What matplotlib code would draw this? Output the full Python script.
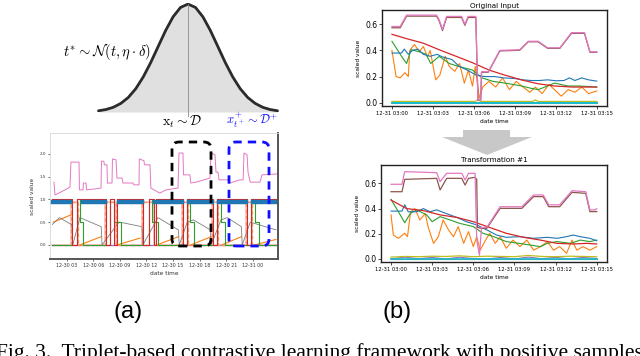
import matplotlib
matplotlib.use('Agg')
import matplotlib.pyplot as plt
from matplotlib.patches import FancyBboxPatch, Polygon
import numpy as np

plt.rcParams['mathtext.fontset'] = 'cm'

# ---------------- bell curve (sigma units, relative height) ----------------
bell_x = [-3.0, -2.75, -2.5, -2.25, -2.0, -1.75, -1.5, -1.25, -1.0, -0.75, -0.5, -0.25, 0.0,
          0.25, 0.5, 0.75, 1.0, 1.25, 1.5, 1.75, 2.0, 2.25, 2.5, 2.75, 3.0]
bell_y = [0.011, 0.023, 0.044, 0.080, 0.135, 0.216, 0.325, 0.458, 0.607, 0.755, 0.882, 0.969, 1.0,
          0.969, 0.882, 0.755, 0.607, 0.458, 0.325, 0.216, 0.135, 0.080, 0.044, 0.023, 0.011]

# ---------------- panel (a): hours since 12-30 00:00 ----------------
a_ticks = [3, 6, 9, 12, 15, 18, 21, 24]
a_ticklabels = ['12-30 03', '12-30 06', '12-30 09', '12-30 12', '12-30 15', '12-30 18', '12-30 21', '12-31 00']
a_yticks = [0.0, 0.5, 1.0, 1.5, 2.0]

pink_a_t = [1.58, 1.69, 2.25, 2.82, 3.38, 3.49, 4.40, 4.45, 4.85, 4.90, 5.19, 5.24, 6.20, 6.88, 6.93, 7.20,
            7.26, 7.55, 7.60, 8.12, 8.17, 8.57, 8.68, 9.24, 9.36, 10.48, 10.60, 11.16, 11.20, 11.72, 11.78,
            12.40, 12.50, 13.30, 13.53, 14.20, 15.56, 15.67, 16.12, 16.18, 16.90, 17.00, 17.60, 19.17, 19.28,
            19.73, 19.84, 20.07, 20.18, 21.20, 21.40, 22.55, 22.90, 23.00, 23.34, 23.45, 23.70, 24.80, 25.03, 26.70]
pink_a_v = [1.38, 1.10, 1.15, 1.21, 1.27, 1.82, 1.82, 1.21, 1.21, 1.36, 1.36, 1.21, 1.23, 1.25, 1.84, 1.84,
            1.76, 1.76, 1.36, 1.36, 1.89, 1.87, 1.47, 1.47, 1.36, 1.36, 1.32, 1.32, 1.89, 1.85, 1.76,
            1.76, 1.25, 1.16, 1.14, 1.21, 1.25, 2.02, 2.02, 1.54, 1.54, 1.36, 1.38, 1.47, 2.02,
            1.98, 1.60, 1.60, 1.43, 1.43, 1.36, 1.43, 1.43, 2.02, 1.98, 1.60, 1.38, 1.38, 1.54, 1.56]

red_a_t = [1.3, 3.6, 4.2, 7.4, 7.9, 8.4, 8.7, 11.6, 12.3, 12.8, 13.1, 16.1, 16.6, 19.5, 20.0, 23.3, 23.8, 26.6]
red_a_v = [1, 0, 1, 0, 1, 0, 1, 0, 1, 0, 1, 0, 1, 0, 1, 0, 1, 1]

blue_a_t = [1.3, 3.4, 4.8, 7.3, 8.9, 11.5, 13.0, 16.0, 16.8, 19.4, 20.2, 23.2, 24.0, 26.6]
blue_a_v = [0.94, np.nan, 0.94, np.nan, 0.94, np.nan, 0.94, np.nan, 0.94, np.nan, 0.94, np.nan, 0.94, 0.94]

green_a_t = [1.3, 4.2, 4.5, 4.9, 7.9, 8.3, 9.1, 12.3, 12.6, 13.3, 16.6, 16.9, 17.4, 20.0, 20.4, 20.9, 23.8, 24.2, 24.7, 26.6]
green_a_v = [0, 1, 0.5, 0, 1, 0.5, 0, 1, 0.5, 0, 1, 0.5, 0, 1, 0.5, 0, 1, 0.5, 0, 0]

pulse_a_t = [1.3, 3.5, 4.3, 7.3, 8.6, 11.5, 12.9, 16.0, 16.7, 19.4, 20.1, 23.2, 23.9, 26.6]
pulse_a_v = [0, 0.95, 0, 0.95, 0, 0.95, 0, 0.95, 0, 0.95, 0, 0.95, 0, 0]

orange_a_t = [1.5, 3.5, np.nan, 4.5, 6.9, np.nan, 8.7, 11.3, np.nan, 13.2, 15.6, np.nan, 17.0, 19.3, np.nan, 20.5, 22.7, np.nan, 24.2, 26.6]
orange_a_v = [0.5, 0.66, np.nan, 0.0, 0.18, np.nan, 0.0, 0.15, np.nan, 0.0, 0.18, np.nan, 0.0, 0.18, np.nan, 0.0, 0.18, np.nan, 0.0, 0.12]

grey_a_t = [1.4, 2.2, 3.6, 3.7, 4.5, 6.9, 7.0, 8.9, 9.5, 11.5, 11.6, 13.3, 15.6, 15.7, 16.6, 17.3, 19.2, 19.3,
            20.4, 21.1, 22.7, 22.8, 23.7, 26.6]
grey_a_v = [0.45, 0.6, 0.44, 0.0, 0.6, 0.4, 0.0, 0.5, 0.48, 0.4, 0.0, 0.6, 0.33, 0.0, 0.5, 0.55, 0.33, 0.0,
            0.55, 0.6, 0.4, 0.0, 0.5, 0.33]

purple_a_t = [1.3, 26.6]
purple_a_v = [0.0, 0.0]

# ---------------- panel (b): minutes after 12-31 03:00 ----------------
b_ticks = [0, 3, 6, 9, 12, 15]
b_ticklabels = ['12-31 03:00', '12-31 03:03', '12-31 03:06', '12-31 03:09', '12-31 03:12', '12-31 03:15']

top_pink_m = [0, 0.6, 1.07, 3.27, 3.46, 3.7, 4.0, 5.1, 5.34, 5.58, 6.14, 6.3, 6.5, 6.56, 7.05, 7.9, 9.36,
              9.98, 10.7, 11.4, 12.3, 13.15, 14.1, 14.5, 15.0]
top_pink_v = [0.583, 0.583, 0.67, 0.67, 0.633, 0.56, 0.66, 0.66, 0.60, 0.66, 0.66, 0.02, 0.02, 0.237, 0.237,
              0.40, 0.405, 0.47, 0.47, 0.42, 0.42, 0.536, 0.536, 0.39, 0.39]
top_brown_v = [0.573, 0.573, 0.662, 0.662, 0.625, 0.552, 0.652, 0.652, 0.592, 0.652, 0.652, 0.02, 0.02, 0.233, 0.233,
               0.396, 0.401, 0.466, 0.466, 0.416, 0.416, 0.531, 0.531, 0.386, 0.386]

top_red_m = [0, 1.07, 2.3, 3.46, 4.7, 5.9, 7.1, 8.3, 9.5, 10.7, 11.9, 13.2, 15.0]
top_red_v = [0.523, 0.49, 0.455, 0.405, 0.355, 0.306, 0.25, 0.21, 0.174, 0.145, 0.128, 0.12, 0.12]

top_blue_m = [0, 0.7, 0.9, 1.2, 1.5, 1.9, 2.3, 2.8, 3.3, 3.7, 4.4, 4.9, 5.5, 6.2, 6.8, 7.5, 8.2, 9.0, 9.6,
              10.2, 10.8, 11.4, 12.0, 12.6, 13.0, 13.4, 13.9, 14.4, 15.0]
top_blue_v = [0.38, 0.38, 0.41, 0.37, 0.40, 0.41, 0.37, 0.355, 0.37, 0.35, 0.33, 0.28, 0.25, 0.21, 0.20, 0.20,
              0.19, 0.185, 0.175, 0.17, 0.17, 0.175, 0.168, 0.17, 0.19, 0.17, 0.19, 0.175, 0.165]

top_green_m = [0, 0.7, 1.07, 1.4, 2.0, 2.5, 2.84, 3.46, 4.2, 4.9, 5.9, 6.6, 7.4, 8.3, 9.5, 10.2, 10.7, 11.2,
               11.9, 12.9, 13.7, 15.0]
top_green_v = [0.47, 0.355, 0.30, 0.405, 0.39, 0.37, 0.30, 0.355, 0.30, 0.277, 0.25, 0.19, 0.163, 0.15, 0.128,
               0.11, 0.10, 0.12, 0.15, 0.128, 0.128, 0.12]

top_orange_m = [0, 0.3, 0.6, 0.95, 1.2, 1.3, 1.65, 2.0, 2.3, 2.6, 2.8, 3.2, 3.5, 3.9, 4.2, 4.6, 4.95, 5.3, 5.6,
                5.9, 6.1, 6.4, 6.65, 7.1, 7.6, 8.1, 8.6, 9.1, 9.6, 10.1, 10.5, 11.0, 11.5, 12.0, 12.4, 12.9,
                13.4, 13.9, 14.4, 15.0]
top_orange_v = [0.40, 0.20, 0.19, 0.23, 0.20, 0.40, 0.445, 0.39, 0.43, 0.35, 0.40, 0.175, 0.21, 0.355, 0.277,
                0.24, 0.30, 0.15, 0.25, 0.127, 0.277, 0.035, 0.12, 0.163, 0.12, 0.19, 0.10, 0.163, 0.12, 0.08,
                0.12, 0.07, 0.14, 0.09, 0.05, 0.10, 0.08, 0.12, 0.07, 0.09]

top_olive_m = [0, 6.1, 6.3, 6.5, 10.3, 10.5, 10.7, 15.0]
top_olive_v = [0.01, 0.01, 0.025, 0.01, 0.01, 0.022, 0.01, 0.01]

bot_pink_m = [0, 0.8, 1.0, 3.33, 3.58, 4.06, 5.16, 5.4, 5.65, 6.13, 6.25, 6.45, 6.6, 6.98, 7.96, 9.54, 10.4,
              11.1, 11.5, 12.3, 13.2, 14.2, 14.5, 14.9, 15.0]
bot_pink_v = [0.593, 0.593, 0.693, 0.685, 0.614, 0.68, 0.68, 0.627, 0.68, 0.68, 0.15, 0.03, 0.25, 0.25, 0.415,
              0.415, 0.508, 0.508, 0.43, 0.43, 0.542, 0.534, 0.39, 0.39, 0.40]

bot_brown_m = [0, 0.8, 1.0, 3.33, 3.58, 4.06, 5.16, 5.4, 5.65, 6.13, 6.25, 6.3, 6.6, 6.98, 7.96, 9.54, 10.4,
               11.1, 11.5, 12.3, 13.2, 14.2, 14.5, 15.0]
bot_brown_v = [0.534, 0.534, 0.632, 0.64, 0.548, 0.64, 0.64, 0.587, 0.64, 0.648, 0.632, 0.25, 0.243, 0.243,
               0.402, 0.402, 0.495, 0.495, 0.415, 0.415, 0.529, 0.521, 0.376, 0.376]

bot_red_m = [0, 1.14, 2.36, 3.58, 4.8, 6.0, 7.2, 8.4, 9.66, 10.9, 12.1, 13.3, 14.3, 15.0]
bot_red_v = [0.468, 0.40, 0.384, 0.35, 0.33, 0.296, 0.25, 0.204, 0.172, 0.15, 0.124, 0.119, 0.124, 0.119]

bot_blue_m = [0, 0.8, 1.0, 1.25, 1.87, 2.36, 2.85, 3.33, 3.8, 4.3, 4.8, 5.5, 6.25, 7.0, 7.7, 8.4, 9.4, 10.4,
              11.4, 12.1, 12.8, 13.3, 13.8, 14.5, 15.0]
bot_blue_v = [0.38, 0.38, 0.43, 0.375, 0.375, 0.40, 0.375, 0.39, 0.37, 0.35, 0.33, 0.296, 0.27, 0.23, 0.19,
              0.172, 0.177, 0.164, 0.172, 0.164, 0.177, 0.19, 0.177, 0.164, 0.145]

bot_green_m = [0, 0.54, 1.0, 1.4, 1.87, 2.6, 3.0, 3.58, 4.3, 5.0, 6.0, 6.7, 7.5, 8.4, 9.66, 10.9, 11.4, 12.1,
               13.1, 13.8, 14.5, 15.0]
bot_green_v = [0.473, 0.375, 0.288, 0.36, 0.39, 0.35, 0.296, 0.336, 0.31, 0.283, 0.257, 0.204, 0.177, 0.138,
               0.119, 0.098, 0.124, 0.138, 0.124, 0.15, 0.138, 0.15]

bot_orange_m = [0, 0.17, 0.54, 1.0, 1.2, 1.43, 1.75, 2.1, 2.5, 2.7, 3.1, 3.45, 3.8, 4.2, 4.55, 4.9, 5.3, 5.65,
                6.0, 6.25, 6.5, 6.9, 7.2, 7.6, 7.96, 8.4, 8.9, 9.4, 9.9, 10.4, 10.9, 11.4, 11.85, 12.3, 12.8,
                13.2, 13.55, 14.0, 14.5, 15.0]
bot_orange_v = [0.35, 0.19, 0.164, 0.204, 0.177, 0.375, 0.40, 0.31, 0.36, 0.257, 0.124, 0.177, 0.31, 0.23,
                0.177, 0.257, 0.124, 0.217, 0.098, 0.177, 0.07, 0.15, 0.204, 0.124, 0.177, 0.085, 0.15, 0.098,
                0.15, 0.07, 0.098, 0.138, 0.07, 0.098, 0.045, 0.15, 0.07, 0.098, 0.07, 0.098]

bot_noise_m = [0, 1, 2, 3, 4, 5, 6, 7, 8, 9, 10, 11, 12, 13, 14, 15]
bot_olive_v = [0.015, 0.02, 0.018, 0.022, 0.02, 0.025, 0.018, 0.022, 0.02, 0.018, 0.028, 0.02, 0.018, 0.022, 0.02, 0.018]
bot_purple_v = [0.0, 0.015, 0.002, 0.012, 0.0, 0.014, 0.003, 0.0, 0.012, 0.0, 0.015, 0.002, 0.013, 0.0, 0.012, 0.004]

W, H = 640, 356
fig = plt.figure(figsize=(W / 100, H / 100), dpi=100)


def box(x0, y0, x1, y1):
    # pixel box (top-left origin) -> figure fraction rect
    return [x0 / W, 1 - y1 / H, (x1 - x0) / W, (y1 - y0) / H]


# ---- bell curve ----
axg = fig.add_axes(box(97, 3, 279, 112))
axg.fill_between(bell_x, 0, bell_y, color='#e0e0e0', lw=0)
axg.plot(bell_x, bell_y, color='#2b2b2b', lw=2.0, solid_capstyle='round')
axg.plot([0, 0], [-0.04, 1.0], color='#8a8a8a', lw=0.6, clip_on=False)
axg.set_xlim(-3.05, 3.05)
axg.set_ylim(0, 1.01)
axg.axis('off')

fig.text(107 / W, 1 - 52 / H, r'$t^{*} \sim \mathcal{N}(t,\eta\cdot\delta)$', ha='center', va='center', fontsize=10.5)
fig.text(182 / W, 1 - 122 / H, r'$\mathrm{x}_t \sim \mathcal{D}$', ha='center', va='center', fontsize=10)
fig.text(252 / W, 1 - 120 / H, r'$x_{t^+}^{+} \sim \mathcal{D}^{+}$', ha='center', va='center', fontsize=9, color='#1010ff')

# ---- panel (a) ----
axa = fig.add_axes(box(50, 133, 278, 259))
axa.step(purple_a_t, purple_a_v, where='post', color='#9467bd', lw=0.9)
axa.step(pulse_a_t, pulse_a_v, where='post', color='#ff7f0e', lw=0.9, ls=(0, (3, 2)))
axa.step(pulse_a_t, pulse_a_v, where='post', color='#f4a8a0', lw=1.2, alpha=0.7)
axa.plot(orange_a_t, orange_a_v, color='#ff7f0e', lw=0.8)
axa.plot(grey_a_t, grey_a_v, color='#7f7f7f', lw=0.6)
axa.step(green_a_t, green_a_v, where='post', color='#2ca02c', lw=0.8)
axa.step(red_a_t, red_a_v, where='post', color='#d62728', lw=0.8)
axa.step(blue_a_t, blue_a_v, where='post', color='#1f77b4', lw=3.2)
axa.plot(pink_a_t, pink_a_v, color='#e377c2', lw=0.7)
axa.set_xlim(1.13, 26.83)
axa.set_ylim(-0.31, 2.46)
axa.set_xticks(a_ticks)
axa.set_xticklabels(a_ticklabels, fontsize=3.4, color='#333333')
axa.set_yticks(a_yticks)
axa.set_yticklabels([f'{v:.1f}' for v in a_yticks], fontsize=3.0, color='#333333')
axa.tick_params(length=1.5, width=0.4, pad=1.5)
axa.set_xlabel('date time', fontsize=4.2, labelpad=2, color='#333333')
axa.set_ylabel('scaled value', fontsize=4.2, labelpad=3, color='#333333')
for s in ['left', 'top']:
    axa.spines[s].set_color('#d8d8d8')
    axa.spines[s].set_linewidth(0.6)
for s in ['right', 'bottom']:
    axa.spines[s].set_color('#555555')
    axa.spines[s].set_linewidth(1.4)

# dashed selection boxes (pixel layout, inches transform)
for (x0, x1, col) in [(172, 211, 'black'), (229, 269, '#1010ff')]:
    p = FancyBboxPatch((x0 / 100, (H - 246) / 100), (x1 - x0) / 100, (246 - 142) / 100,
                       boxstyle='round,pad=0,rounding_size=0.07', fill=False, ec=col, lw=2.0,
                       ls=(0, (3, 2.2)), transform=fig.dpi_scale_trans)
    fig.add_artist(p)

# ---- panel (b) top ----
axt = fig.add_axes(box(382, 10, 607, 106))
axt.plot(bot_noise_m, [0] * len(bot_noise_m), color='#7f7f7f', lw=0.8)
axt.plot(bot_noise_m, [0.004] * len(bot_noise_m), color='#9467bd', lw=0.8)
axt.plot(top_olive_m, top_olive_v, color='#bcbd22', lw=0.9)
axt.plot(bot_noise_m, [0.0] * len(bot_noise_m), color='#17becf', lw=1.4)
axt.plot(top_orange_m, top_orange_v, color='#ff7f0e', lw=0.8)
axt.plot(top_green_m, top_green_v, color='#2ca02c', lw=0.8)
axt.plot(top_blue_m, top_blue_v, color='#1f77b4', lw=0.8)
axt.plot(top_red_m, top_red_v, color='#d62728', lw=0.9)
axt.plot(top_pink_m, top_brown_v, color='#8c564b', lw=0.9)
axt.plot(top_pink_m, top_pink_v, color='#e377c2', lw=0.9)
axt.set_title('Original Input', fontsize=5.2, pad=1.5)

# ---- panel (b) bottom ----
axb = fig.add_axes(box(381, 165, 607, 262))
axb.plot(bot_noise_m, [-0.003] * len(bot_noise_m), color='#7f7f7f', lw=0.8)
axb.plot(bot_noise_m, bot_purple_v, color='#9467bd', lw=0.8)
axb.plot(bot_noise_m, bot_olive_v, color='#bcbd22', lw=0.9)
axb.plot(bot_noise_m, [0.0] * len(bot_noise_m), color='#17becf', lw=1.2)
axb.plot(bot_orange_m, bot_orange_v, color='#ff7f0e', lw=0.8)
axb.plot(bot_green_m, bot_green_v, color='#2ca02c', lw=0.8)
axb.plot(bot_blue_m, bot_blue_v, color='#1f77b4', lw=0.8)
axb.plot(bot_red_m, bot_red_v, color='#d62728', lw=0.9)
axb.plot(bot_brown_m, bot_brown_v, color='#8c564b', lw=0.9)
axb.plot(bot_pink_m, bot_pink_v, color='#e377c2', lw=0.9)
axb.set_title('Transformation #1', fontsize=5.2, pad=2.5)

for ax, ylim in [(axt, (-0.025, 0.709)), (axb, (-0.024, 0.746))]:
    ax.set_xlim(-0.73, 15.75)
    ax.set_ylim(*ylim)
    ax.set_xticks(b_ticks)
    ax.set_xticklabels(b_ticklabels, fontsize=3.8)
    ax.set_yticks([0.0, 0.2, 0.4, 0.6])
    ax.tick_params(axis='y', labelsize=5.5, length=2, width=0.5, pad=1.5)
    ax.tick_params(axis='x', length=2, width=0.5, pad=1.5)
    ax.set_xlabel('date time', fontsize=4.2, labelpad=2)
    ax.set_ylabel('scaled value', fontsize=4.2, labelpad=3)
    for s in ax.spines.values():
        s.set_color('#222222')
        s.set_linewidth(1.0)

# big grey arrow between (b) panels
arrow = Polygon([(463 / 100, (H - 130) / 100), (510 / 100, (H - 130) / 100), (510 / 100, (H - 137) / 100),
                 (532 / 100, (H - 137) / 100), (487 / 100, (H - 155) / 100), (442 / 100, (H - 137) / 100),
                 (463 / 100, (H - 137) / 100)], closed=True, fc='#c8c8c8', ec='none',
                transform=fig.dpi_scale_trans)
fig.add_artist(arrow)

fig.text(128 / W, 1 - 312 / H, '(a)', ha='center', va='center', fontsize=17, family='Liberation Sans')
fig.text(397 / W, 1 - 312 / H, '(b)', ha='center', va='center', fontsize=17, family='Liberation Sans')
fig.text(-4 / W, 1 - 358 / H, 'Fig. 3.  Triplet-based contrastive learning framework with positive samples',
         ha='left', va='baseline', fontsize=15.5, family='Liberation Serif')

fig.savefig('out.png', dpi=100)
